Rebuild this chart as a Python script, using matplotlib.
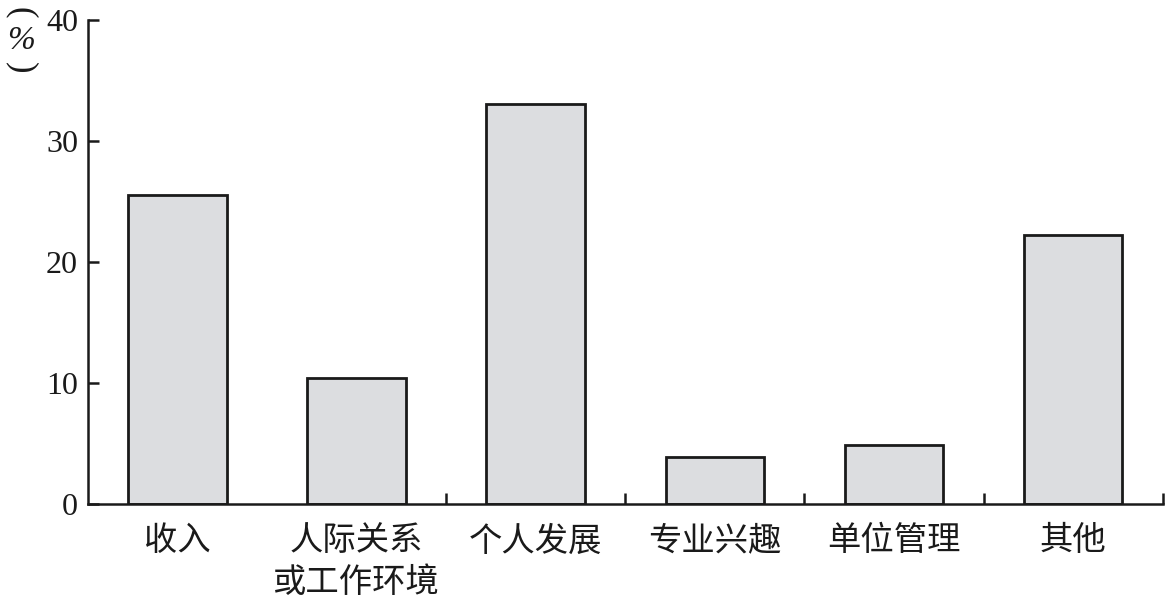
import numpy as np
import matplotlib.pyplot as plt

plt.rcParams['font.family'] = ['Liberation Serif', 'Noto Sans CJK SC', 'DejaVu Sans']

# Data
categories = ['收入', '人际关系\n或工作环境', '个人发展', '专业兴趣', '单位管理', '其他']
values = [25.5, 10.4, 33.1, 3.9, 4.9, 22.2]
yticks = [0, 10, 20, 30, 40]

fig = plt.figure(figsize=(11.71, 6.01), dpi=100)
ax = fig.add_axes([0.075, 0.1614, 0.918, 0.8053])

x = np.arange(len(categories))
ax.bar(x, values, width=0.55, color='#dcdde0', edgecolor='#1a1a1a', linewidth=2.0)

ax.set_xlim(-0.5, len(categories) - 0.5)
ax.set_ylim(0, 40)

# y axis
ax.set_yticks(yticks)
ax.set_yticklabels([str(t) for t in yticks], fontsize=23)
ax.tick_params(axis='y', direction='in', length=8, width=1.8, pad=7, colors='#1a1a1a')

# x axis: labels at centres, ticks at category boundaries
ax.set_xticks(x)
ax.set_xticklabels(categories, fontsize=24, family=['Noto Sans CJK SC'], linespacing=1.25, va='top')
ax.tick_params(axis='x', length=0, pad=14, colors='#1a1a1a')
ax.set_xticks(x[1:] + 0.5, minor=True)
ax.tick_params(axis='x', which='minor', direction='in', length=8, width=1.8, colors='#1a1a1a')

for s in ['top', 'right']:
    ax.spines[s].set_visible(False)
for s in ['left', 'bottom']:
    ax.spines[s].set_linewidth(1.8)
    ax.spines[s].set_color('#1a1a1a')

# vertical "(%)" label, stacked by hand
fig.text(0.018, 0.978, '(', ha='center', va='center', fontsize=25,
         rotation=-90, color='#1a1a1a')
fig.text(0.018, 0.933, '%', ha='center', va='center', fontsize=24,
         style='italic', color='#1a1a1a')
fig.text(0.018, 0.888, ')', ha='center', va='center', fontsize=25,
         rotation=-90, color='#1a1a1a')

fig.savefig('out.png', dpi=100)
